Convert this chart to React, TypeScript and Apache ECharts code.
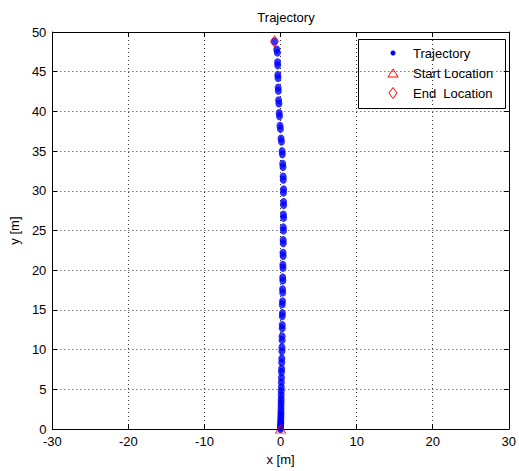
import React, { useEffect, useRef } from "react";
import * as echarts from "echarts";

const trajX = [0, 0, 0, 0.02, 0.02, 0.03, 0.03, 0.04, 0.05, 0.05, 0.06, 0.06, 0.07, 0.08, 0.08, 0.09, 0.1, 0.1, 0.12, 0.12, 0.14, 0.15, 0.16, 0.18, 0.18, 0.2, 0.2, 0.22, 0.22, 0.22, 0.24, 0.22, 0.26, 0.28, 0.26, 0.3, 0.28, 0.32, 0.3, 0.34, 0.32, 0.36, 0.34, 0.38, 0.36, 0.4, 0.38, 0.4, 0.4, 0.38, 0.4, 0.36, 0.34, 0.32, 0.28, 0.24, 0.2, 0.12, 0.06, -0.02, -0.08, -0.14, -0.18, -0.22, -0.26, -0.3, -0.32, -0.34, -0.36, -0.38, -0.4, -0.42, -0.5, -0.8];
const trajY = [0, 0.2, 0.4, 0.6, 0.8, 1.0, 1.3, 1.6, 1.9, 2.2, 2.6, 3.0, 3.4, 3.8, 4.3, 4.8, 5.3, 5.9, 6.5, 7.2, 7.6, 8.4, 8.9, 9.8, 10.3, 11.2, 11.7, 12.7, 13.1, 14.2, 14.6, 15.7, 16.1, 17.2, 17.6, 18.7, 19.1, 20.3, 20.7, 21.8, 22.2, 23.4, 23.8, 25.0, 25.4, 26.6, 27.0, 28.2, 28.6, 29.8, 30.2, 31.4, 31.8, 33.0, 33.4, 34.6, 35.0, 36.2, 36.6, 37.8, 38.2, 39.4, 39.8, 41.0, 41.4, 42.6, 43.0, 44.2, 44.6, 45.8, 46.2, 47.4, 47.8, 48.8];
const startPoint = [0, 0];
const endPoint = [-0.8, 48.8];
const legendLabels = ["Trajectory", "Start Location", "End  Location"];
const xTicks = { min: -30, max: 30, interval: 10 };
const yTicks = { min: 0, max: 50, interval: 5 };

const FONT = "Liberation Sans, Arial, sans-serif";

export default function App() {
  const ref = useRef<HTMLDivElement>(null);
  useEffect(() => {
    if (!ref.current) return;
    const chart = echarts.init(ref.current, undefined, { renderer: "svg" });
    const trajData = trajX.map((x, i) => [x, trajY[i]]);
    const axisCommon = {
      type: "value" as const,
      axisLine: { show: true, onZero: false, lineStyle: { color: "#000", width: 1 } },
      axisTick: { show: true, inside: true, length: 5, lineStyle: { color: "#000" } },
    };
    const textStyle = { fontFamily: FONT, fontSize: 13, color: "#000" };
    chart.setOption({
      animation: false,
      backgroundColor: "#fff",
      title: {
        text: "Trajectory",
        left: 281,
        textAlign: "center",
        top: 6,
        textStyle: { ...textStyle, fontWeight: "normal" },
      },
      grid: { left: 51, right: 7, top: 32, bottom: 41, containLabel: false },
      xAxis: [
        {
          ...axisCommon,
          ...xTicks,
          position: "bottom",
          axisLabel: { ...textStyle, margin: 6 },
          splitLine: { show: true, lineStyle: { color: "#333", type: [1, 3], width: 1 } },
          name: "x [m]",
          nameLocation: "middle",
          nameGap: 21,
          nameTextStyle: textStyle,
        },
        {
          ...axisCommon,
          ...xTicks,
          position: "top",
          axisLabel: { show: false },
          splitLine: { show: false },
        },
      ],
      yAxis: [
        {
          ...axisCommon,
          ...yTicks,
          position: "left",
          axisLabel: { ...textStyle, margin: 6 },
          splitLine: { show: true, lineStyle: { color: "#333", type: [1, 3], width: 1 } },
          name: "y [m]",
          nameLocation: "middle",
          nameGap: 26,
          nameTextStyle: textStyle,
        },
        {
          ...axisCommon,
          ...yTicks,
          position: "right",
          axisLabel: { show: false },
          splitLine: { show: false },
        },
      ],
      series: [
        {
          name: legendLabels[0],
          type: "scatter",
          data: trajData,
          symbol: "circle",
          symbolSize: [7, 8],
          itemStyle: { color: "#0000ff" },
          z: 2,
        },
        {
          name: legendLabels[1],
          type: "scatter",
          data: [startPoint],
          symbol: "triangle",
          symbolSize: [10, 8],
          itemStyle: { color: "rgba(0,0,0,0)", borderColor: "#ff0000", borderWidth: 1 },
          z: 3,
        },
        {
          name: legendLabels[2],
          type: "scatter",
          data: [endPoint],
          symbol: "diamond",
          symbolSize: [8, 11],
          itemStyle: { color: "rgba(0,0,0,0)", borderColor: "#ff0000", borderWidth: 1 },
          z: 3,
        },
      ],
      graphic: [
        {
          type: "group",
          z: 100,
          children: [
            {
              type: "rect",
              shape: { x: 358.5, y: 39.5, width: 147, height: 69 },
              style: { fill: "#fff", stroke: "#000", lineWidth: 1 },
            },
            { type: "circle", shape: { cx: 393, cy: 53, r: 2.5 }, style: { fill: "#0000ff" } },
            {
              type: "polygon",
              shape: { points: [[388, 77], [398, 77], [393, 69]] },
              style: { fill: "none", stroke: "#ff0000", lineWidth: 1 },
            },
            {
              type: "polygon",
              shape: { points: [[393, 87.5], [397, 93], [393, 98.5], [389, 93]] },
              style: { fill: "none", stroke: "#ff0000", lineWidth: 1 },
            },
            {
              type: "text",
              x: 413,
              y: 53,
              style: { text: legendLabels[0], font: `13px ${FONT}`, fill: "#000", verticalAlign: "middle" },
            },
            {
              type: "text",
              x: 413,
              y: 73,
              style: { text: legendLabels[1], font: `13px ${FONT}`, fill: "#000", verticalAlign: "middle" },
            },
            {
              type: "text",
              x: 413,
              y: 93,
              style: { text: legendLabels[2], font: `13px ${FONT}`, fill: "#000", verticalAlign: "middle" },
            },
          ],
        },
      ],
    });
    return () => chart.dispose();
  }, []);
  return <div ref={ref} style={{ width: 519, height: 471, position: "absolute", left: 0, top: 0 }} />;
}
